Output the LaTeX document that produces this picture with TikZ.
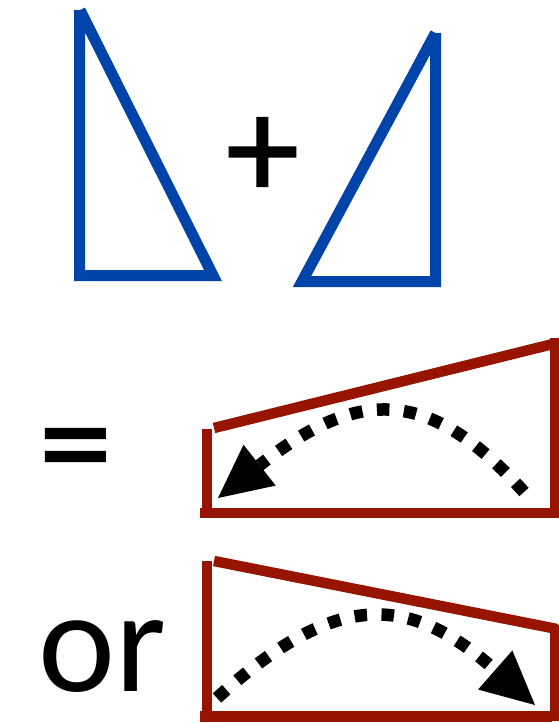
\documentclass[tikz,border=0pt]{standalone}
\usepackage{fontspec}
\setmainfont{Carlito}
\newfontface\heavysym[FakeBold=1.2]{Carlito}
\usetikzlibrary{arrows.meta}
\definecolor{triblue}{HTML}{0044AA}
\definecolor{boxred}{HTML}{961400}

\begin{document}
\begin{tikzpicture}[x=1pt, y=-1pt,
  tri/.style={draw=triblue, line width=11pt, line join=miter},
  wall/.style={draw=boxred, line width=10.5pt},
  swing/.style={line width=12.5pt, dash pattern=on 12.5pt off 14.5pt, -{Triangle[length=53pt,width=52pt,line width=0pt]}},
  sym/.style={inner sep=0pt, font=\fontsize{146}{150}\selectfont},
  op/.style={sym, font=\fontsize{146}{150}\heavysym}
]
\useasboundingbox (0,0) rectangle (559,724);
% the two halves
\draw[tri] (80,10) -- (213,275.5) -- (79.5,275.5) -- (79.5,10);
\draw[tri] (435.5,33) -- (302,281.5) -- (435.5,281.5) -- (435.5,33);
\node[op] (plus) at (262.5,158) {+};
% first sum: slope rising to the right
\node[op] (eq) at (75.5,460) {=};
\draw[wall] (207,429) -- (207,513);
\draw[wall] (200,513) -- (552,513);
\draw[wall] (214,428) -- (557,343);
\draw[wall] (555.5,338) -- (555.5,518);
\draw[swing] (524,492) .. controls (430,388) and (360,386) .. (218,498);
% second sum: slope falling to the right
\node[sym, anchor=base west] (or) at (38,691) {or};
\draw[wall] (207,561) -- (207,716.5);
\draw[wall] (200,716.5) -- (552,716.5);
\draw[wall] (214,561) -- (557,629);
\draw[wall] (555.5,625) -- (555.5,721);
\draw[swing] (217,698) .. controls (339,587) and (411,596) .. (535,705);
\end{tikzpicture}
\end{document}
